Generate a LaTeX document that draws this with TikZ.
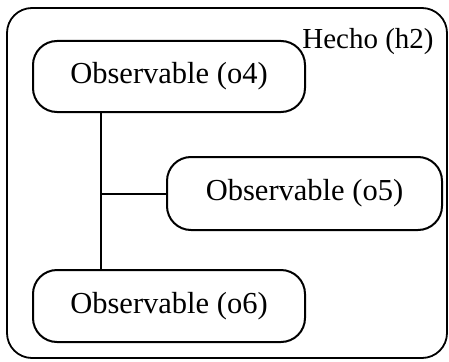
\documentclass[tikz,border=0pt]{standalone}
\usepackage{fontspec}
\setmainfont{Liberation Serif}
\begin{document}
\begin{tikzpicture}[x=1pt,y=-1pt,
  frame/.style={draw=black,line width=1.8pt,rounded corners=25pt},
  obsbox/.style={draw=black,line width=2pt,rounded corners=24pt,
    minimum height=71pt,inner sep=0pt,font=\fontsize{30.5}{34}\selectfont},
  link/.style={draw=black,line width=2pt}]
\useasboundingbox (0,0) rectangle (449,361);
% enclosing fact
\draw[frame] (7,8) rectangle (447,358);
\node[font=\fontsize{29}{32}\selectfont,inner sep=0pt] (h2) at (368,42) {Hecho (h2)};
% observables
\node[obsbox,minimum width=272pt] (o4) at (169,76.5) {\raisebox{-1.5pt}{Observable (o4)}};
\node[obsbox,minimum width=275pt,minimum height=73pt] (o5) at (304.5,193.5) {Observable (o5)};
\node[obsbox,minimum width=272pt,minimum height=72pt] (o6) at (169,306) {\raisebox{-1.5pt}{Observable (o6)}};
% tree connectors
\coordinate (spine) at (101,193.5);
\draw[link] (o4.south -| spine) -- (o6.north -| spine);
\draw[link] (spine) -- (o5.west);
\end{tikzpicture}
\end{document}
